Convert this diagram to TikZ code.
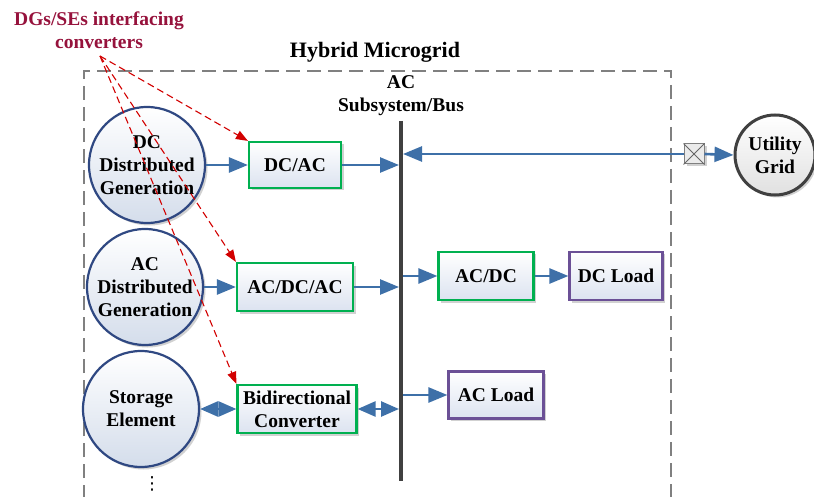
\documentclass[tikz,border=0pt]{standalone}
\usepackage{fontspec}
\setmainfont{Liberation Serif}
\newfontfamily\dotsfont{DejaVu Sans}
\usetikzlibrary{arrows.meta,shadows}
\definecolor{arrblue}{RGB}{62,112,168}
\definecolor{circborder}{RGB}{47,72,130}
\definecolor{circfill}{RGB}{212,221,235}
\definecolor{boxfill}{RGB}{220,227,240}
\definecolor{boxgreen}{RGB}{0,176,80}
\definecolor{loadpurple}{RGB}{107,80,150}
\definecolor{labelred}{RGB}{150,18,60}
\definecolor{dashred}{RGB}{210,0,0}
\definecolor{busgray}{RGB}{64,64,64}
\tikzset{
  txt/.style={font=\fontsize{19.5}{23}\selectfont\bfseries, align=center},
  shade/.style={drop shadow={shadow xshift=2.5pt, shadow yshift=-2.5pt, fill=black!45, opacity=0.4}},
  src/.style={circle, draw=circborder, line width=2.2pt, top color=white, bottom color=circfill,
    minimum size=116pt, inner sep=0pt, txt, shade},
  conv/.style={rectangle, draw=boxgreen, line width=2.2pt, top color=white, bottom color=boxfill,
    inner sep=0pt, txt, shade},
  loadbox/.style={conv, draw=loadpurple},
  flow/.style={draw=arrblue, line width=2.6pt, -{Triangle[length=19pt,width=15pt]}},
  biflow/.style={draw=arrblue, line width=2.6pt, {Triangle[length=18pt,width=15pt]}-{Triangle[length=18pt,width=15pt]}},
  hint/.style={draw=dashred, line width=1.1pt, dash pattern=on 7pt off 4pt, -{Triangle[length=12pt,width=9pt]}}
}
\begin{document}
\begin{tikzpicture}[x=1pt,y=-1pt]
\useasboundingbox (0,0) rectangle (814,497);
\clip (0,0) rectangle (814,497);
\fill[white] (0,0) rectangle (814,497);

% microgrid boundary
\draw[gray, line width=1.5pt, dash pattern=on 14pt off 7pt] (84,520) -- (84,71) -- (671,71) -- (671,520);

% titles
\node[txt, text=labelred] (lbl) at (99,30) {DGs/SEs interfacing\\converters};
\coordinate (apex) at (100,56);
\node[txt, font=\fontsize{22}{26}\selectfont\bfseries] (title) at (375,52) {Hybrid Microgrid};
\node[txt] (buslbl) at (401,96) {AC\\Subsystem/Bus};

% bus
\coordinate (bustop) at (401,121);
\coordinate (busbot) at (401,481);
\draw[busgray, line width=4pt] (bustop) -- (busbot);

% sources
\node[src] (dcdg) at (147,165) {DC\\Distributed\\Generation};
\node[src] (acdg) at (145,287) {AC\\Distributed\\Generation};
\node[src] (stor) at (141,409) {Storage\\Element};
\node[font=\dotsfont\fontsize{18}{18}\selectfont, inner sep=0pt] (dots) at (152,484) {⋮};

% converters
\node[conv, minimum width=92pt, minimum height=46pt] (dcac) at (295,165) {DC/AC};
\node[conv, minimum width=116pt, minimum height=48pt] (acdcac) at (295,287) {AC/DC/AC};
\node[conv, minimum width=119pt, minimum height=48pt] (bidi) at (297,409) {Bidirectional\\Converter};
\node[conv, minimum width=95pt, minimum height=48pt] (acdc) at (486,276) {AC/DC};

% loads
\node[loadbox, minimum width=93pt, minimum height=48pt] (dcload) at (616,276) {DC Load};
\node[loadbox, minimum width=95pt, minimum height=47pt] (acload) at (496,395) {AC Load};

% utility grid and switch
\node[circle, draw=busgray, line width=3pt, top color=white, bottom color=black!12,
  minimum size=80pt, inner sep=0pt, txt, shade] (grid) at (775,155) {Utility\\Grid};
\node[draw=gray, line width=1pt, fill=black!8, minimum size=20pt, inner sep=0pt, shade] (sw) at (694,154) {};
\draw[gray!80!black, line width=0.9pt] (sw.north west) -- (sw.south east) (sw.north east) -- (sw.south west);

% power flows
\draw[flow] (dcdg.east) -- (dcac.west);
\draw[flow, shorten >=2pt] (dcac.east) -- (dcac.east -| bustop);
\draw[flow] (acdg.east) -- (acdcac.west);
\draw[flow, shorten >=2pt] (acdcac.east) -- (acdcac.east -| bustop);
\draw[biflow] (stor.east) -- (bidi.west);
\draw[biflow, shorten >=2pt] (bidi.east) -- (bidi.east -| bustop);
\draw[flow, shorten <=2pt] (acdc.west -| bustop) -- (acdc.west);
\draw[flow] (acdc.east) -- (dcload.west);
\draw[flow, shorten <=2pt] (acload.west -| bustop) -- (acload.west);
\draw[flow, shorten >=2pt] (sw.west) -- (sw.west -| bustop);
\draw[flow] (sw.east) -- (grid.west);

% interfacing converter hints
\draw[hint] (apex) -- (dcac.north west);
\draw[hint] (apex) -- (acdcac.north west);
\draw[hint] (apex) -- (bidi.north west);
\end{tikzpicture}
\end{document}
